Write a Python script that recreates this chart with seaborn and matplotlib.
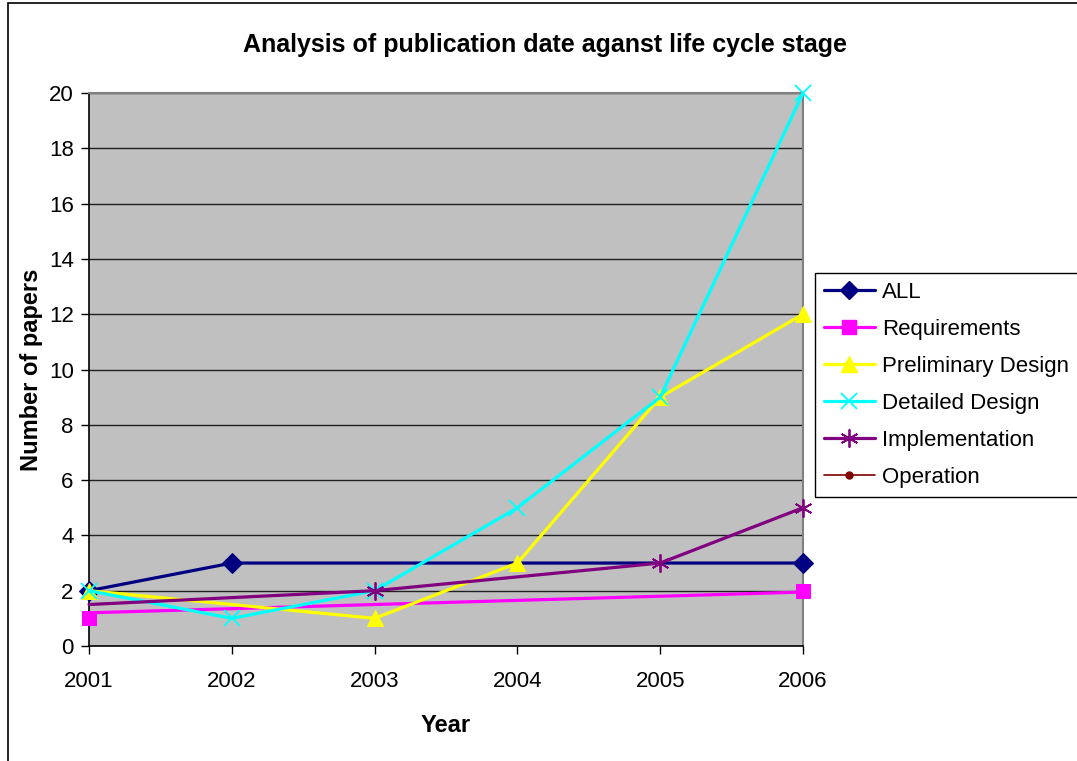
import numpy as np
import pandas as pd
import matplotlib
matplotlib.use('Agg')
import matplotlib.pyplot as plt
from matplotlib.lines import Line2D
from matplotlib.patches import Rectangle
import seaborn as sns

# Papers per life cycle stage by publication year
years = [2001, 2002, 2003, 2004, 2005, 2006]
all_papers = [2, 3, np.nan, np.nan, np.nan, 3]
requirements = [1, np.nan, np.nan, np.nan, np.nan, 2]
requirements_trend_years = [2001, 2006]
requirements_trend = [1.2, 1.95]
preliminary_design = [2, np.nan, 1, 3, 9, 12]
detailed_design = [2, 1, 2, 5, 9, 20]
implementation = [1.5, np.nan, 2, np.nan, 3, 5]
operation = [np.nan] * 6

y_ticks = list(range(0, 21, 2))

sns.set_theme(style='white')
plt.rcParams['font.family'] = ['Liberation Sans', 'DejaVu Sans']
plt.rcParams['text.color'] = 'black'
plt.rcParams['axes.labelcolor'] = 'black'
plt.rcParams['xtick.color'] = 'black'
plt.rcParams['ytick.color'] = 'black'

W, H = 1077, 761
fig = plt.figure(figsize=(W / 100, H / 100), dpi=100)
fig.patches.append(Rectangle((8 / W, -0.01), 1.0, 1 - 3 / H + 0.01, transform=fig.transFigure,
                             fill=False, edgecolor='black', linewidth=1.2))

ax = fig.add_axes([89 / W, (H - 646) / H, (803 - 89) / W, (646 - 93) / H])
ax.set_facecolor('#C0C0C0')

asterisk = (6, 2, 0)
series = [
    ('ALL', all_papers, '#000080', 'D', 9),
    ('Requirements', requirements, '#FF00FF', 's', 10),
    ('Preliminary Design', preliminary_design, '#FFFF00', '^', 12),
    ('Detailed Design', detailed_design, '#00FFFF', 'x', 11),
    ('Implementation', implementation, '#800080', asterisk, 13),
    ('Operation', operation, '#800000', 'o', 5),
]

df = pd.DataFrame({'Year': years})
for name, vals, color, marker, ms in series:
    df[name] = vals

# ALL
d = df[['Year', 'ALL']].dropna()
sns.lineplot(data=d, x='Year', y='ALL', ax=ax, color='#000080', linewidth=2.3,
             marker='D', markersize=10, markeredgecolor='#000080', zorder=3, clip_on=False)

# Requirements: markers plus linear trend line
d = df[['Year', 'Requirements']].dropna()
sns.lineplot(x=requirements_trend_years, y=requirements_trend, ax=ax, color='#FF00FF',
             linewidth=2.3, zorder=3)
sns.lineplot(data=d, x='Year', y='Requirements', ax=ax, color='#FF00FF', linestyle='',
             marker='s', markersize=10, markeredgecolor='#FF00FF', zorder=3, clip_on=False)

# Preliminary Design
d = df[['Year', 'Preliminary Design']].dropna()
sns.lineplot(data=d, x='Year', y='Preliminary Design', ax=ax, color='#FFFF00', linewidth=2.3,
             marker='^', markersize=12, markeredgecolor='#FFFF00', zorder=4, clip_on=False)

# Detailed Design
d = df[['Year', 'Detailed Design']].dropna()
sns.lineplot(data=d, x='Year', y='Detailed Design', ax=ax, color='#00FFFF', linewidth=2.3,
             marker='x', markersize=11, markeredgewidth=1.3, markeredgecolor='#00FFFF',
             zorder=4, clip_on=False)

# Implementation (no marker on the first point)
d = df[['Year', 'Implementation']].dropna()
sns.lineplot(data=d, x='Year', y='Implementation', ax=ax, color='#800080', linewidth=2.3,
             marker=asterisk, markersize=13, markeredgewidth=1.3, markeredgecolor='#800080',
             markevery=[1, 2, 3], zorder=5, clip_on=False)

ax.set_xlim(2001, 2006)
ax.set_ylim(0, 20)
ax.set_xticks(years)
ax.set_xticklabels([str(y) for y in years])
ax.set_yticks(y_ticks)
ax.yaxis.grid(True, color='#202020', linewidth=1.0)
ax.set_axisbelow(True)

for side in ['top', 'right']:
    ax.spines[side].set_color('#808080')
    ax.spines[side].set_linewidth(1.5)
for side in ['left', 'bottom']:
    ax.spines[side].set_color('black')
    ax.spines[side].set_linewidth(1.2)
ax.tick_params(axis='both', direction='out', length=6, width=1, color='black',
               labelsize=16, left=True, bottom=True, pad=5)
ax.tick_params(axis='x', pad=12)

ax.set_xlabel('Year', fontsize=17, fontweight='bold', labelpad=16)
ax.set_ylabel('Number of papers', fontsize=17, fontweight='bold', labelpad=4)
fig.text(545 / W, 1 - 45 / H, 'Analysis of publication date aganst life cycle stage',
         ha='center', va='center', fontsize=18, fontweight='bold')

handles = []
for name, vals, color, marker, ms in series:
    lw = 1.2 if name == 'Operation' else 2.3
    mew = 1.3 if marker in ('x', asterisk) else 1.0
    handles.append(Line2D([], [], color=color, linewidth=lw, marker=marker, markersize=ms,
                          markeredgecolor=color, markerfacecolor=color, markeredgewidth=mew))
leg = fig.legend(handles, [s[0] for s in series], loc='upper left',
                 bbox_to_anchor=(815 / W, 1 - 273 / H), fontsize=16, frameon=True,
                 fancybox=False, edgecolor='black', framealpha=1, handlelength=2.3,
                 handletextpad=0.3, labelspacing=0.72, borderpad=0.4, borderaxespad=0)
leg.get_frame().set_linewidth(1.0)

fig.savefig('out.png', dpi=100)
